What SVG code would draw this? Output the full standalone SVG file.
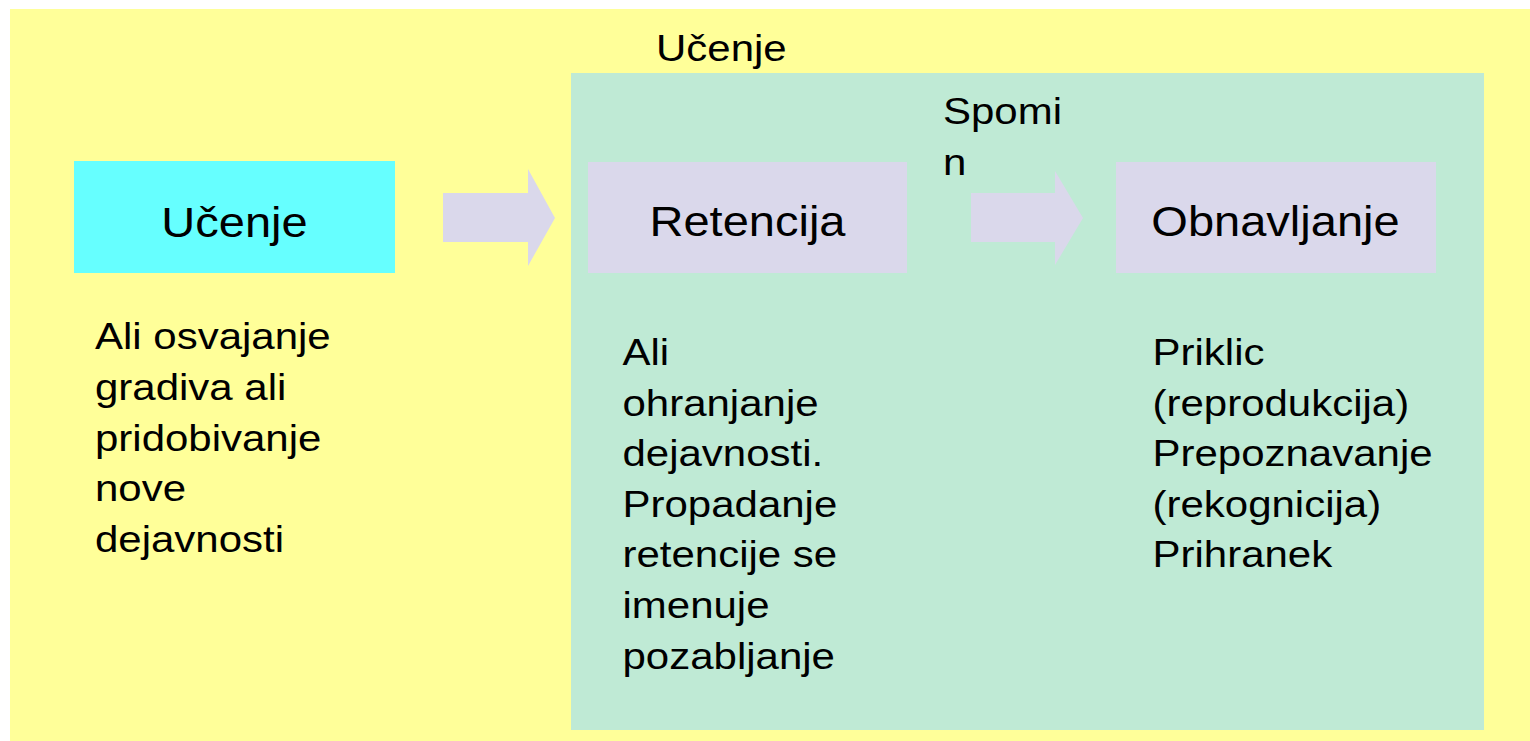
<svg xmlns="http://www.w3.org/2000/svg" width="1530" height="741" viewBox="0 0 1530 741">
<style>
.t{font-family:"Liberation Sans",Arial,sans-serif;fill:#000}
.b{font-size:37.5px}
.h{font-size:42px}
.arrow{fill:#DAD8EB}
.box{fill:#DAD8EB}
</style>
<rect x="0" y="0" width="1530" height="741" fill="#FFFFFF"/>
<g id="outer">
<rect x="10" y="9" width="1520" height="732" fill="#FFFF99"/>
<g transform="translate(656,61) scale(1.12,1)"><text class="t b" x="0" y="0">Učenje</text></g>
</g>
<g id="inner">
<rect x="571" y="73" width="913" height="657" fill="#BFEAD5"/>
</g>
<g id="ucenje">
<rect x="74" y="161" width="321" height="112" fill="#66FFFF"/>
<g transform="translate(234.5,237) scale(1.12,1)"><text class="t h" x="0" y="0" text-anchor="middle">Učenje</text></g>
<g transform="translate(95,0) scale(1.12,1)"><text class="t b">
<tspan x="0" y="349.3">Ali osvajanje</tspan>
<tspan x="0" y="400">gradiva ali</tspan>
<tspan x="0" y="450.7">pridobivanje</tspan>
<tspan x="0" y="501.5">nove</tspan>
<tspan x="0" y="552.3">dejavnosti</tspan>
</text></g>
</g>
<g id="retencija">
<rect class="box" x="588" y="162" width="319" height="111"/>
<g transform="translate(747.5,236) scale(1.12,1)"><text class="t h" x="0" y="0" text-anchor="middle">Retencija</text></g>
<g transform="translate(622.5,0) scale(1.12,1)"><text class="t b">
<tspan x="0" y="365">Ali</tspan>
<tspan x="0" y="415.6">ohranjanje</tspan>
<tspan x="0" y="466.2">dejavnosti.</tspan>
<tspan x="0" y="516.8">Propadanje</tspan>
<tspan x="0" y="567.4">retencije se</tspan>
<tspan x="0" y="618">imenuje</tspan>
<tspan x="0" y="668.6">pozabljanje</tspan>
</text></g>
</g>
<g id="obnavljanje">
<rect class="box" x="1116" y="162" width="320" height="111"/>
<g transform="translate(1275.5,236) scale(1.12,1)"><text class="t h" x="0" y="0" text-anchor="middle">Obnavljanje</text></g>
<g transform="translate(1152.5,0) scale(1.12,1)"><text class="t b">
<tspan x="0" y="365">Priklic</tspan>
<tspan x="0" y="415.6">(reprodukcija)</tspan>
<tspan x="0" y="466.2">Prepoznavanje</tspan>
<tspan x="0" y="516.8">(rekognicija)</tspan>
<tspan x="0" y="567.4">Prihranek</tspan>
</text></g>
</g>
<g id="connectors">
<polygon class="arrow" points="443,193 528,193 528,169 555,218 528,266 528,242 443,242"/>
<polygon class="arrow" points="971,193 1055,193 1055,171 1083,218 1055,265 1055,242 971,242"/>
</g>
<g id="spomin-label">
<g transform="translate(943,0) scale(1.12,1)"><text class="t b">
<tspan x="0" y="124">Spomi</tspan>
<tspan x="0" y="175">n</tspan>
</text></g>
</g>
</svg>
